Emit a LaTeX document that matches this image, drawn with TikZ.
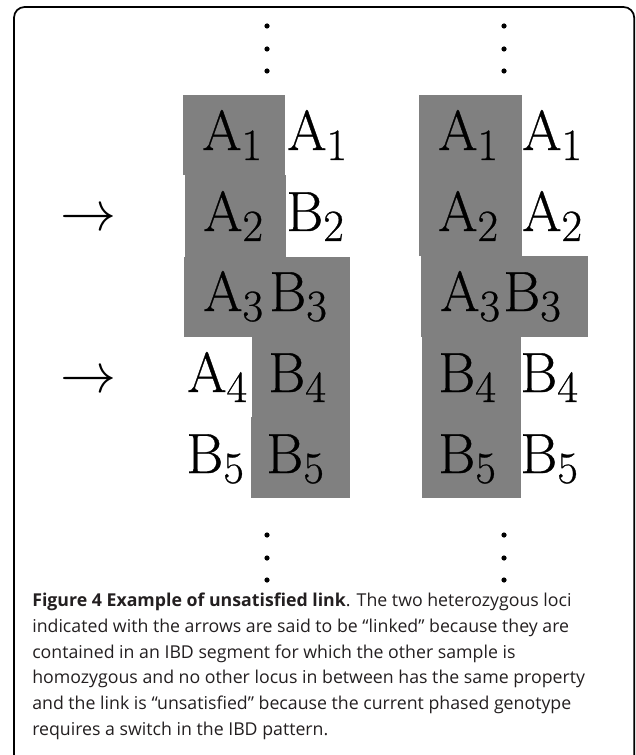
\RequirePackage{fix-cm}
\documentclass[tikz,border=0pt]{standalone}
\usepackage{fontspec}
\newfontfamily\capfont{Open Sans}
\newfontfamily\lmbig[FakeBold=0.6]{lmroman17-regular.otf}
\newfontfamily\lmsub[FakeBold=0.6]{lmroman17-regular.otf}
\newcommand\allele[2]{{\lmbig\fontsize{42.5}{50}\selectfont #1}\raisebox{-7.5pt}{\lmsub\fontsize{33.5}{40}\selectfont #2}}
\definecolor{blockgray}{HTML}{808080}
\definecolor{captext}{HTML}{231F20}
\begin{document}
\begin{tikzpicture}[x=0.75pt,y=-0.75pt,
  cell/.style={anchor=base west, inner sep=0pt, font=\fontsize{42}{50}\selectfont},
  blk/.style={fill=blockgray, draw=none},
  capline/.style={anchor=base west, inner sep=0pt, font=\capfont\fontsize{13.3}{16}\selectfont, text=captext},
  frameline/.style={draw=black, line width=1.3pt, rounded corners=8pt}]
\useasboundingbox (0,0) rectangle (635,755);
\begin{scope}
\clip (0,0) rectangle (635,755);
\draw[frameline] (14,800) -- (14,7) -- (634.2,7) -- (634.2,800);
\end{scope}
% dots
\foreach \yy in {26,49,71,535,558,580}{
  \fill (267,\yy) circle (2.6);
  \fill (504,\yy) circle (2.6);
}
% gray blocks left
\fill[blk] (183,95) rectangle (285,175);
\fill[blk] (185,175) rectangle (286,257);
\fill[blk] (184,257) rectangle (350,337);
\fill[blk] (252,337) rectangle (350,417);
\fill[blk] (251,417) rectangle (350,498);
% gray blocks right
\fill[blk] (419,95) rectangle (522,256);
\fill[blk] (421,256) rectangle (588,337);
\fill[blk] (422,337) rectangle (521,498);
% arrows
\node[cell] (ar1) at (60,231) {$\rightarrow$};
\node[cell] (ar2) at (60,392) {$\rightarrow$};
% left column texts
\node[cell] (la1) at (202,150) {\allele{A}{1}};
\node[cell] (lb1) at (287,150) {\allele{A}{1}};
\node[cell] (la2) at (203,231) {\allele{A}{2}};
\node[cell] (lb2) at (286,231) {\allele{B}{2}};
\node[cell] (la3) at (203,311) {\allele{A}{3}};
\node[cell] (lb3) at (269,311) {\allele{B}{3}};
\node[cell] (la4) at (187,392) {\allele{A}{4}};
\node[cell] (lb4) at (268,392) {\allele{B}{4}};
\node[cell] (la5) at (186,473) {\allele{B}{5}};
\node[cell] (lb5) at (266,473) {\allele{B}{5}};
% right column texts
\node[cell] (ra1) at (438,150) {\allele{A}{1}};
\node[cell] (rb1) at (522,150) {\allele{A}{1}};
\node[cell] (ra2) at (438,231) {\allele{A}{2}};
\node[cell] (rb2) at (522,231) {\allele{A}{2}};
\node[cell] (ra3) at (440,311) {\allele{A}{3}};
\node[cell] (rb3) at (503,311) {\allele{B}{3}};
\node[cell] (ra4) at (438,392) {\allele{B}{4}};
\node[cell] (rb4) at (520,392) {\allele{B}{4}};
\node[cell] (ra5) at (438,473) {\allele{B}{5}};
\node[cell] (rb5) at (520,473) {\allele{B}{5}};
% caption
\node[capline] (c1) at (32,606.7) {\textbf{Figure 4 Example of unsatisfied link}. The two heterozygous loci};
\node[capline] (c2) at (32,632.4) {indicated with the arrows are said to be “linked” because they are};
\node[capline] (c3) at (32,658.1) {contained in an IBD segment for which the other sample is};
\node[capline] (c4) at (32,683.8) {homozygous and no other locus in between has the same property};
\node[capline] (c5) at (32,709.5) {and the link is “unsatisfied” because the current phased genotype};
\node[capline] (c6) at (32,735.2) {requires a switch in the IBD pattern.};
\end{tikzpicture}
\end{document}
